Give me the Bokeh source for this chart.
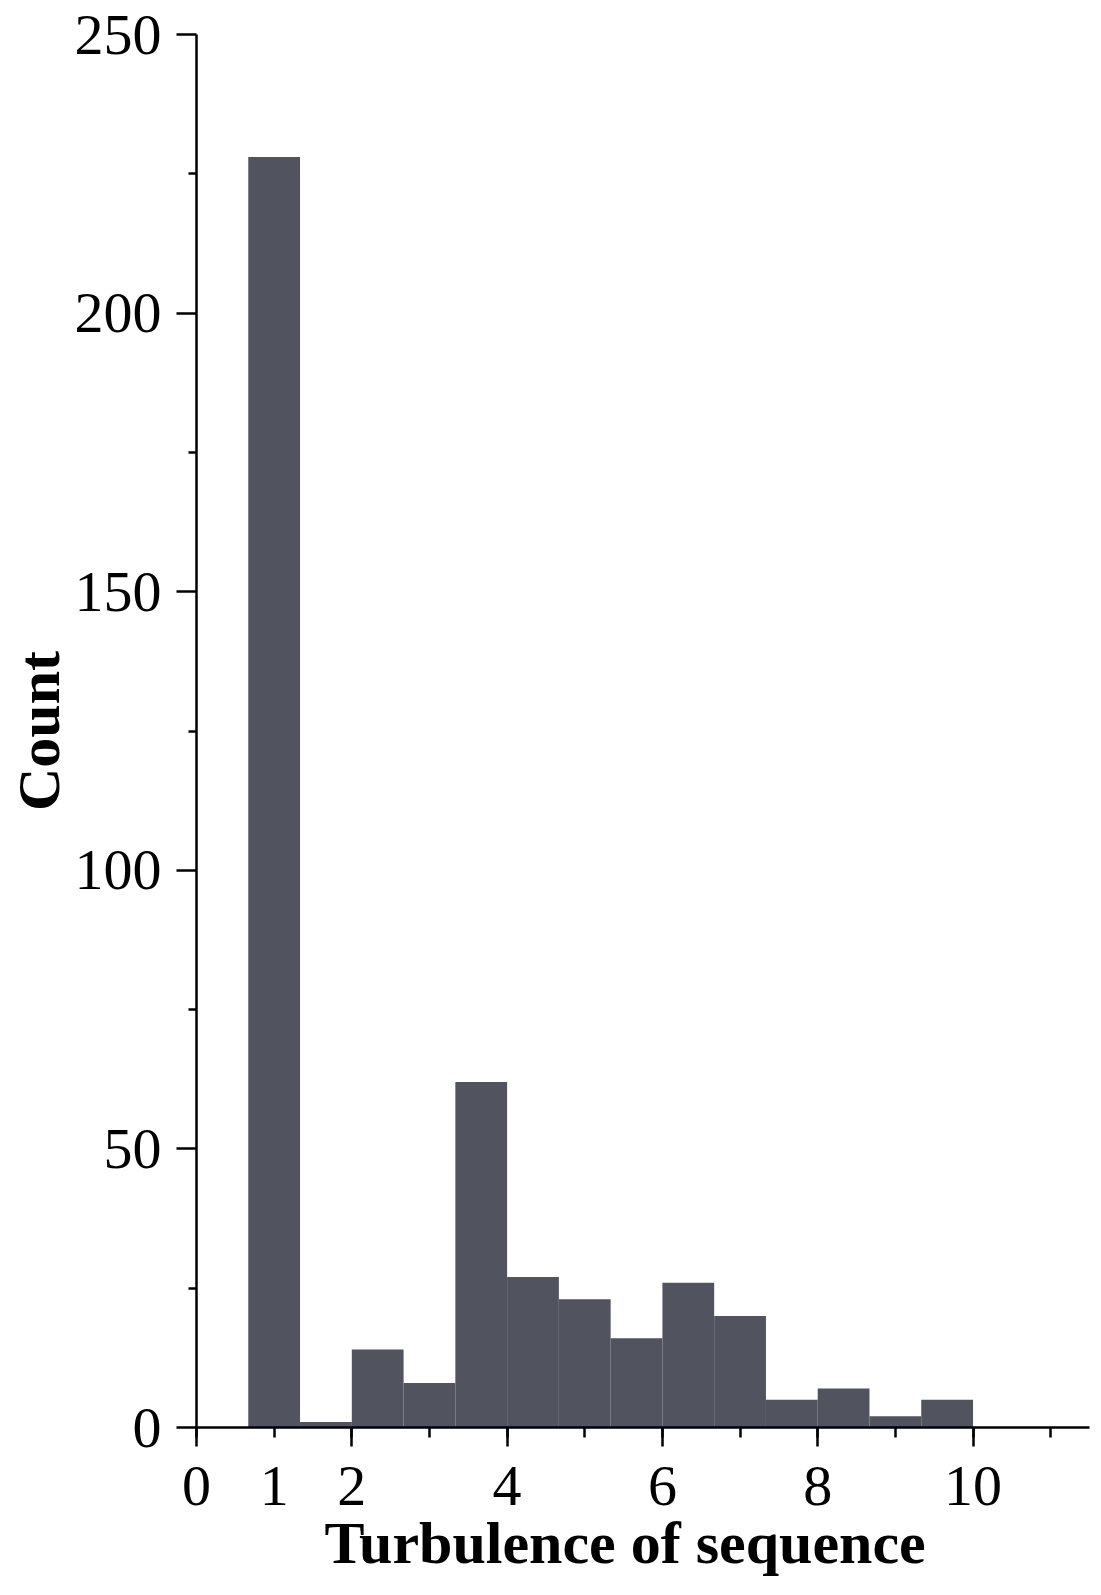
from bokeh.plotting import figure
from bokeh.models import FixedTicker, Range1d, ColumnDataSource, Title
from bokeh.embed import file_html
from bokeh.resources import INLINE

# ---- data ----
bin_edges = [2/3, 4/3, 2, 8/3, 10/3, 4, 14/3, 16/3, 6, 20/3, 22/3, 8, 26/3, 28/3, 10]
counts = [228, 1, 14, 8, 62, 27, 23, 16, 26, 20, 5, 7, 2, 5]
x_ticks = [0, 1, 2, 3, 4, 5, 6, 7, 8, 9, 10, 11]
x_labelled = [0, 1, 2, 4, 6, 8, 10]
x_long_ticks = [0, 2, 4, 6, 8, 10]
y_major = [0, 50, 100, 150, 200, 250]
y_minor = [25, 75, 125, 175, 225]
x_title = "Turbulence of sequence"
y_title = "Count"

src = ColumnDataSource(dict(left=bin_edges[:-1], right=bin_edges[1:], top=counts,
                            bottom=[0] * len(counts)))

p = figure(width=1095, height=1595, output_backend="svg", toolbar_location=None,
           x_range=Range1d(0, 11.5), y_range=Range1d(0, 250),
           min_border_left=196, min_border_right=6, min_border_top=34, min_border_bottom=168)
p.background_fill_color = "white"
p.border_fill_color = "white"
p.outline_line_color = None
p.grid.visible = False
p.title.visible = False

p.quad(left="left", right="right", top="top", bottom="bottom", source=src,
       fill_color="#51535F", line_color=None)

FONT = "Liberation Serif"

xa = p.xaxis[0]
xa.ticker = FixedTicker(ticks=x_ticks, minor_ticks=x_long_ticks)
xa.major_label_overrides = {t: ("" if t not in x_labelled else str(t)) for t in x_ticks}
xa.major_label_text_font = FONT
xa.major_label_text_font_size = "58px"
xa.major_label_text_color = "black"
xa.major_label_standoff = 20
xa.axis_line_color = "black"
xa.axis_line_width = 2.5
xa.major_tick_line_width = 2.5
xa.minor_tick_line_width = 2.5
xa.major_tick_line_color = "black"
xa.minor_tick_line_color = "black"
xa.major_tick_out = 10
xa.major_tick_in = 0
xa.minor_tick_out = 19
xa.minor_tick_in = 0

ya = p.yaxis[0]
ya.ticker = FixedTicker(ticks=y_major, minor_ticks=y_minor)
ya.major_label_text_font = FONT
ya.major_label_text_font_size = "58px"
ya.major_label_text_color = "black"
ya.major_label_standoff = 15
ya.axis_line_color = "black"
ya.axis_line_width = 2.5
ya.major_tick_line_width = 2.5
ya.minor_tick_line_width = 2.5
ya.major_tick_line_color = "black"
ya.minor_tick_line_color = "black"
ya.major_tick_out = 20
ya.major_tick_in = 0
ya.minor_tick_out = 8
ya.minor_tick_in = 0

# axis titles as side titles
p.add_layout(Title(text=x_title, align="left", offset=128, standoff=0,
                   text_font=FONT, text_font_size="60px", text_font_style="bold",
                   text_color="black"), "below")
p.add_layout(Title(text=y_title, align="center", standoff=0,
                   text_font=FONT, text_font_size="60px", text_font_style="bold",
                   text_color="black"), "left")

open("out.html", "w").write(file_html(p, INLINE))
